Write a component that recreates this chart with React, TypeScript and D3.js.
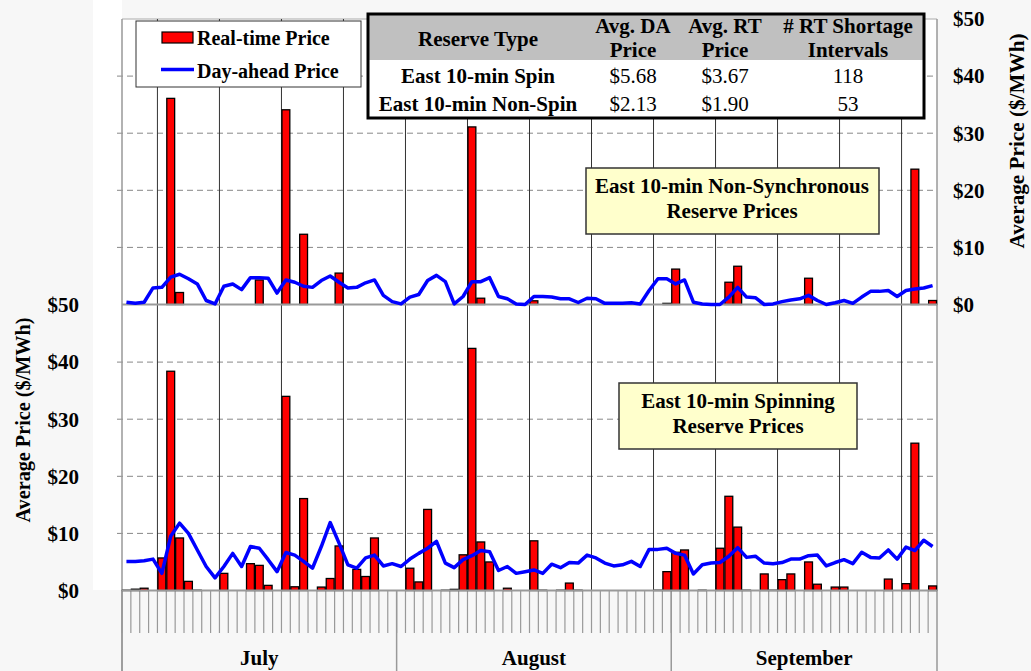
import React from "react";
import * as d3 from "d3";

// ---------- DATA ----------
const months = ["July", "August", "September"];
const monthDays = [31, 31, 30];
const yTicks = [0, 10, 20, 30, 40, 50];

// East 10-min Non-Synchronous (Non-Spin) reserve prices, Jul 1 .. Sep 30
const nonSpinDA = [
  0.4, 0.2, 0.4, 2.9, 3.0, 4.8, 5.3, 4.5, 3.6, 0.7, 0.1, 3.2, 3.6, 2.6, 4.7, 4.7, 4.6, 2.0, 4.3, 3.9, 3.2, 3.0, 4.2, 5.0, 3.9, 2.9, 3.0, 3.8, 4.3, 1.6, 0.5,
  0.1, 1.3, 1.75, 4.2, 5.1, 4.0, 0.1, 1.4, 4.0, 4.0, 4.7, 1.4, 1.0, 0.1, 0, 1.4, 1.4, 1.3, 1.0, 1.0, 0.35, 1.1, 1.0, 0.2, 0.2, 0.2, 0.3, 0.1, 2.45, 4.5, 4.5, 3.6, 4.3,
  0.4, 0.1, 0, 0, 1.3, 3.0, 1.3, 1.2, 0, 0.1, 0.5, 0.8, 1.0, 1.6, 0.7, 0, 0.3, 0.7, 0.2, 1.3, 2.3, 2.3, 2.45, 1.4, 2.45, 2.7, 2.9, 3.3,
];
const nonSpinRT = [
  0, 0, 0, 0, 0, 36.1, 2.1, 0, 0, 0, 0, 0, 0, 0, 0, 4.3, 0, 0, 34.1, 0, 12.3, 0, 0, 0, 5.5, 0, 0, 0, 0, 0, 0,
  0, 0, 0, 0, 0, 0, 0, 0, 31.1, 1.1, 0, 0, 0, 0, 0, 0.65, 0, 0, 0, 0, 0, 0, 0, 0, 0, 0, 0, 0, 0, 0, 0.2, 6.2, 0,
  0, 0, 0, 0, 3.9, 6.7, 0, 0, 0.05, 0.05, 0, 0, 0, 4.6, 0, 0, 0, 0, 0, 0, 0, 0, 0, 0, 0, 23.7, 0, 0.7,
];

// East 10-min Spinning reserve prices, Jul 1 .. Sep 30
const spinDA = [
  5.1, 5.1, 5.2, 5.5, 3.0, 9.5, 11.8, 10.0, 7.1, 4.2, 2.2, 4.2, 6.5, 4.2, 7.7, 7.4, 5.4, 3.3, 6.65, 6.2, 5.1, 3.9, 7.7, 11.9, 8.3, 4.5, 3.9, 5.7, 6.2, 4.3, 4.7,
  4.2, 5.5, 6.5, 7.4, 8.6, 4.8, 4.0, 5.4, 6.1, 7.0, 6.8, 3.5, 4.2, 3.0, 3.3, 3.6, 3.0, 4.6, 4.0, 4.9, 4.8, 6.2, 5.7, 4.8, 4.3, 4.5, 5.1, 4.2, 7.2, 7.2, 7.4, 6.5, 6.2,
  2.9, 4.5, 4.8, 4.9, 6.0, 7.5, 5.8, 6.0, 4.8, 4.7, 4.9, 5.5, 5.5, 6.1, 6.2, 4.3, 4.9, 5.4, 4.7, 6.7, 5.8, 5.7, 7.1, 5.5, 7.6, 7.0, 8.8, 7.7,
];
const spinRT = [
  0.05, 0.23, 0.4, 0, 5.7, 38.4, 9.2, 1.6, 0.05, 0, 0, 3.0, 0, 0, 4.7, 4.4, 0.9, 0, 34.0, 0.65, 16.1, 0, 0.6, 2.1, 7.8, 0, 3.7, 2.45, 9.2, 0, 0,
  0, 3.9, 1.5, 14.2, 0, 0.05, 0.2, 6.25, 42.4, 8.5, 5.0, 0, 0.4, 0, 0, 8.7, 0.05, 0, 0.05, 1.3, 0.05, 0, 0, 0, 0, 0, 0, 0, 0, 0.05, 3.3, 6.7, 7.1,
  0, 0.05, 0, 7.4, 16.5, 11.1, 0.05, 0, 2.9, 0.05, 1.9, 2.9, 0, 5.0, 1.1, 0, 0.6, 0.6, 0, 0, 0, 0, 2.0, 0, 1.2, 25.8, 0, 0.8,
];

const legendLabels = ["Real-time Price", "Day-ahead Price"];
const tableHeader = [["Reserve Type"], ["Avg. DA", "Price"], ["Avg. RT", "Price"], ["# RT Shortage", "Intervals"]];
const tableRows = [
  ["East 10-min Spin", "$5.68", "$3.67", "118"],
  ["East 10-min Non-Spin", "$2.13", "$1.90", "53"],
];
const topTitle = ["East 10-min Non-Synchronous", "Reserve Prices"];
const botTitle = ["East 10-min Spinning", "Reserve Prices"];
const axisTitle = "Average Price ($/MWh)";

// ---------- LAYOUT ----------
const W = 1031, H = 671;
const X0 = 122, X1 = 937;
const TOP0 = 304.5, TOP50 = 19;
const BOT0 = 590.5, BOT50 = 305;
const FONT = "'Liberation Serif', 'Times New Roman', serif";
const FS = 21;

export default function App() {
  const nDays = d3.sum(monthDays);
  const days = d3.range(nDays);
  const x = d3.scaleBand<number>().domain(days).range([X0, X1]).padding(0);
  const bw = x.bandwidth();
  const yTop = d3.scaleLinear().domain([0, 50]).range([TOP0, TOP50]);
  const yBot = d3.scaleLinear().domain([0, 50]).range([BOT0, BOT50]);

  const lineTop = d3.line<number>().x((_, i) => (x(i) as number) + bw / 2).y((d) => yTop(d));
  const lineBot = d3.line<number>().x((_, i) => (x(i) as number) + bw / 2).y((d) => yBot(d));

  const monthStarts = monthDays.map((_, i) => d3.sum(monthDays.slice(0, i)));
  const weekLines = days.filter((d) => d % 7 === 4);

  const bars = (vals: number[], y: d3.ScaleLinear<number, number>, key: string) =>
    vals.map((v, i) =>
      v > 0 ? (
        <rect key={key + i} x={(x(i) as number) + 0.5} y={y(v)} width={bw - 1} height={y(0) - y(v)}
          fill="#ff0000" stroke="#000" strokeWidth={1.3} />
      ) : null
    );

  const colX = [478, 633, 725, 848];

  return (
    <svg width={W} height={H} style={{ position: "absolute", left: 0, top: 0, fontFamily: FONT }}>
      <rect x={0} y={0} width={W} height={H} fill="#f7f7f7" />
      <rect x={93} y={0} width={29} height={590} fill="#fff" />
      {/* plot area */}
      <rect x={X0} y={TOP50} width={X1 - X0} height={BOT0 - TOP50} fill="#fff" />

      {/* dashed horizontal gridlines */}
      {yTicks.filter((t) => t > 0 && t < 50).map((t) => (
        <g key={"g" + t}>
          <line x1={117} x2={X1} y1={yTop(t)} y2={yTop(t)} stroke="#888" strokeDasharray="6,4" />
          <line x1={117} x2={X1} y1={yBot(t)} y2={yBot(t)} stroke="#888" strokeDasharray="6,4" />
        </g>
      ))}
      <line x1={X0} x2={X1} y1={TOP50} y2={TOP50} stroke="#aaa" />

      {/* weekly vertical gridlines */}
      {weekLines.map((d) => (
        <line key={"w" + d} x1={x(d)} x2={x(d)} y1={TOP50} y2={BOT0} stroke="#333" strokeWidth={1} />
      ))}

      {/* x-axis area */}
      <rect x={X0} y={BOT0} width={X1 - X0} height={H - BOT0} fill="#f7f7f7" />
      {days.map((d) => (
        <line key={"t" + d} x1={x(d)} x2={x(d)} y1={BOT0} y2={633} stroke="#999" strokeWidth={1.2} />
      ))}
      {monthStarts.map((s, i) => (
        <g key={"m" + i}>
          <line x1={x(s)} x2={x(s)} y1={BOT0} y2={H} stroke="#999" strokeWidth={1.5} />
          <text x={(x(s) as number) + (monthDays[i] * bw) / 2} y={665} textAnchor="middle" fontSize={FS} fontWeight="bold">
            {months[i]}
          </text>
        </g>
      ))}
      <line x1={X0} x2={X0} y1={TOP50} y2={H} stroke="#999" strokeWidth={1.5} />
      <line x1={X1} x2={X1} y1={TOP50} y2={H} stroke="#999" strokeWidth={1.5} />

      {/* bars */}
      {bars(nonSpinRT, yTop, "nt")}
      {bars(spinRT, yBot, "sb")}

      {/* baselines */}
      <line x1={X0} x2={X1} y1={TOP0} y2={TOP0} stroke="#999" strokeWidth={2} />
      <line x1={X0} x2={X1} y1={BOT0} y2={BOT0} stroke="#999" strokeWidth={2} />

      {/* DA lines */}
      <path d={lineTop(nonSpinDA) || ""} fill="none" stroke="#0000ff" strokeWidth={3.5} strokeLinejoin="round" />
      <path d={lineBot(spinDA) || ""} fill="none" stroke="#0000ff" strokeWidth={3.5} strokeLinejoin="round" />

      {/* right axis labels (top panel) */}
      {yTicks.map((t) => (
        <text key={"r" + t} x={953} y={yTop(t)} dy="0.35em" fontSize={FS} fontWeight="bold">
          ${t}
        </text>
      ))}
      {/* left axis labels (bottom panel) */}
      {yTicks.map((t) => (
        <text key={"l" + t} x={79} y={yBot(t)} dy="0.35em" textAnchor="end" fontSize={FS} fontWeight="bold">
          ${t}
        </text>
      ))}
      <text transform="translate(23,420) rotate(-90)" textAnchor="middle" dy="0.35em" fontSize={20} fontWeight="bold"
        textLength={205} lengthAdjust="spacingAndGlyphs">
        {axisTitle}
      </text>
      <text transform="translate(1017,141) rotate(-90)" textAnchor="middle" dy="0.35em" fontSize={20} fontWeight="bold"
        textLength={215} lengthAdjust="spacingAndGlyphs">
        {axisTitle}
      </text>

      {/* legend */}
      <rect x={136} y={21} width={225} height={66} fill="#fff" stroke="#333" strokeWidth={1} />
      <rect x={162} y={32} width={31} height={11} fill="#ff0000" stroke="#000" strokeWidth={1.2} />
      <text x={197} y={38} dy="0.35em" fontSize={20} fontWeight="bold">{legendLabels[0]}</text>
      <line x1={161} x2={194} y1={69.5} y2={69.5} stroke="#0000ff" strokeWidth={3.5} />
      <text x={197} y={71} dy="0.35em" fontSize={20} fontWeight="bold">{legendLabels[1]}</text>

      {/* table */}
      <rect x={368} y={14} width={556} height={104} fill="#fff" />
      <rect x={368} y={14} width={556} height={46} fill="#c0c0c0" />
      <rect x={368} y={14} width={556} height={104} fill="none" stroke="#000" strokeWidth={3} />
      {tableHeader.map((lines, i) =>
        lines.map((ln, j) => (
          <text key={"h" + i + j} x={colX[i]} y={lines.length === 1 ? 39 : 26 + j * 24} dy="0.35em"
            textAnchor="middle" fontSize={FS} fontWeight="bold">
            {ln}
          </text>
        ))
      )}
      {tableRows.map((row, r) =>
        row.map((c, i) => (
          <text key={"c" + r + i} x={colX[i]} y={76 + r * 28} dy="0.35em" textAnchor="middle" fontSize={FS}
            fontWeight={i === 0 ? "bold" : "normal"}>
            {c}
          </text>
        ))
      )}

      {/* annotation boxes */}
      <rect x={586} y={168} width={293} height={66} fill="#ffffcc" stroke="#333" strokeWidth={1.5} />
      {topTitle.map((t, i) => (
        <text key={"tt" + i} x={732} y={186 + i * 25} dy="0.35em" textAnchor="middle" fontSize={FS} fontWeight="bold">{t}</text>
      ))}
      <rect x={619} y={383} width={238} height={66} fill="#ffffcc" stroke="#333" strokeWidth={1.5} />
      {botTitle.map((t, i) => (
        <text key={"bt" + i} x={738} y={401 + i * 25} dy="0.35em" textAnchor="middle" fontSize={FS} fontWeight="bold">{t}</text>
      ))}
    </svg>
  );
}
